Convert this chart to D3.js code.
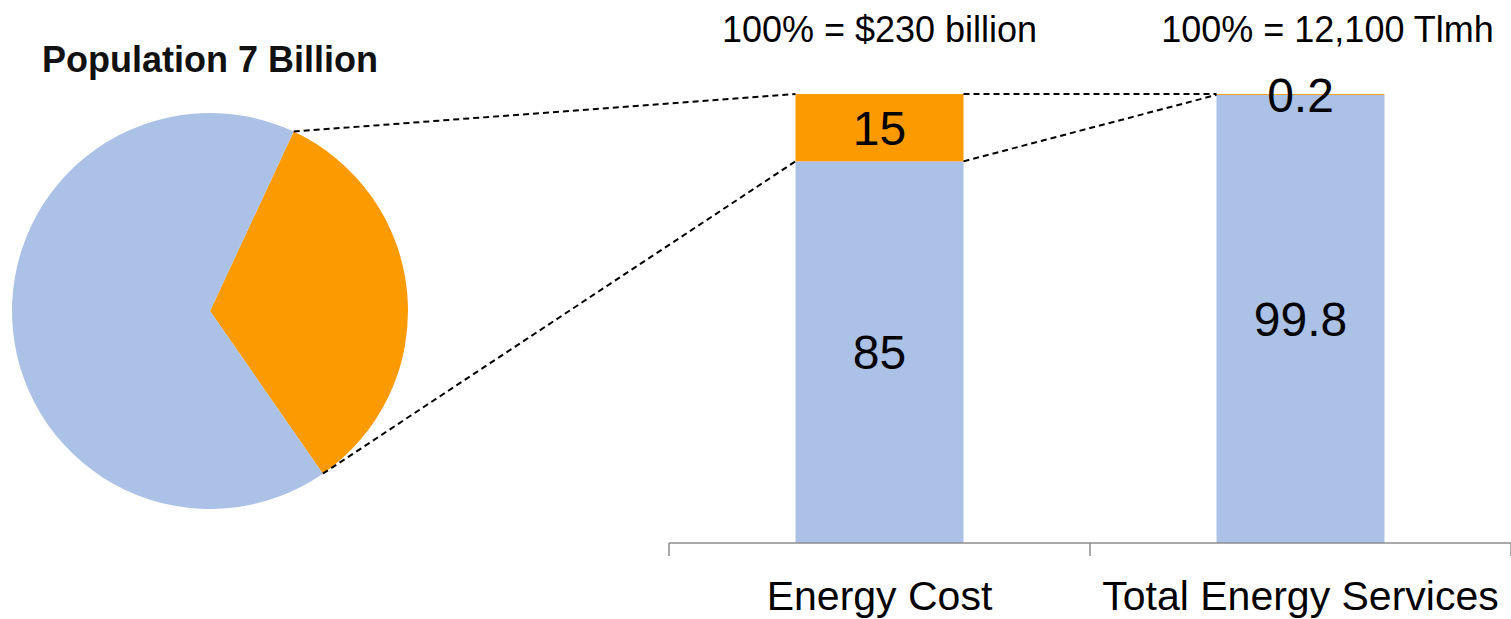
<!DOCTYPE html>
<html><head><meta charset="utf-8">
<script src="https://cdn.jsdelivr.net/npm/d3@7"></script>
<style>body{margin:0;background:#fff}svg{display:block}</style>
</head><body>
<svg id="c" width="1511" height="619"></svg>
<script>
// Data
const pieTitle = "Population 7 Billion";
const pieLabels = ["Orange share", "Rest"];
const pieValues = [33.4, 66.6];
const categories = ["Energy Cost", "Total Energy Services"];
const totals = ["100% = $230 billion", "100% = 12,100 Tlmh"];
const orangeValues = [15, 0.2];
const blueValues = [85, 99.8];

const BLUE = "#ABC1E6", ORANGE = "#FC9A02";
const svg = d3.select("#c");

// Pie
const cx = 210, cy = 311, R = 198;
const startA = 25 * Math.PI / 180;
const pie = d3.pie().sort(null).startAngle(startA).endAngle(startA + 2 * Math.PI);
const arcs = pie(pieValues);
const arc = d3.arc().innerRadius(0).outerRadius(R);
const gp = svg.append("g").attr("transform", `translate(${cx},${cy})`);
gp.selectAll("path").data(arcs).join("path")
  .attr("d", arc).attr("fill", (d, i) => i === 0 ? ORANGE : BLUE);
svg.append("text").attr("x", 42).attr("y", 72).text(pieTitle)
  .attr("font-family", "Liberation Sans, Arial, sans-serif").attr("font-weight", "bold")
  .attr("font-size", 36).attr("fill", "#111");

// Bars
const x = d3.scaleBand().domain(categories).range([669, 1511]).paddingInner(0).paddingOuter(0);
const bw = 168;
const y = d3.scaleLinear().domain([0, 100]).range([543, 94]);
const bars = categories.map((c, i) => ({c, o: orangeValues[i], b: blueValues[i], t: totals[i]}));
const cxb = c => x(c) + x.bandwidth() / 2;

const gb = svg.append("g");
const lf = "Liberation Sans, Arial, sans-serif";
bars.forEach((d, i) => {
  const x0 = cxb(d.c) - bw / 2;
  gb.append("rect").attr("x", x0).attr("width", bw).attr("y", y(d.b)).attr("height", y(0) - y(d.b)).attr("fill", BLUE);
  gb.append("rect").attr("x", x0).attr("width", bw).attr("y", y(d.b + d.o)).attr("height", y(d.b) - y(d.b + d.o)).attr("fill", ORANGE);
  gb.append("text").attr("x", cxb(d.c)).attr("y", (y(d.b) + y(0)) / 2).attr("dy", "0.36em")
    .attr("text-anchor", "middle").attr("font-family", lf).attr("font-size", 48).attr("fill", "#000").text(d.b);
  gb.append("text").attr("x", cxb(d.c)).attr("y", (y(d.b) + y(d.b + d.o)) / 2).attr("dy", "0.36em")
    .attr("text-anchor", "middle").attr("font-family", lf).attr("font-size", 48).attr("fill", "#000").text(d.o);
  gb.append("text").attr("x", cxb(d.c) + (i === 1 ? 27 : 0)).attr("y", 42)
    .attr("text-anchor", "middle").attr("font-family", lf).attr("font-size", 36).attr("fill", "#000").text(d.t);
});

// Axis
const ax = svg.append("g").attr("transform", "translate(0,543)")
  .call(d3.axisBottom(x).tickSize(0).tickFormat(""));
ax.select(".domain").attr("stroke", "#8c8c8c").attr("stroke-width", 1.5).attr("d", "M669,0H1511");
ax.selectAll(".tick").remove();
const edges = [669, 1090, 1511];
ax.selectAll("line.t").data(edges).join("line").attr("class", "t")
  .attr("x1", d => d).attr("x2", d => d).attr("y1", 0).attr("y2", 13).attr("stroke", "#8c8c8c").attr("stroke-width", 1.5);
svg.selectAll("text.cat").data(categories).join("text").attr("class", "cat")
  .attr("x", d => cxb(d)).attr("y", 610).attr("text-anchor", "middle")
  .attr("font-family", lf).attr("font-size", 41).attr("fill", "#000").text(d => d);

// Dashed connectors
const o = arcs[0];
const pt = a => [cx + R * Math.sin(a), cy - R * Math.cos(a)];
const p1 = pt(o.startAngle), p2 = pt(o.endAngle);
const b1l = cxb(categories[0]) - bw / 2, b1r = cxb(categories[0]) + bw / 2, b2l = cxb(categories[1]) - bw / 2;
const lines = [
  [p1, [b1l, y(100)]],
  [p2, [b1l, y(blueValues[0])]],
  [[b1r, y(100)], [b2l, y(100)]],
  [[b1r, y(blueValues[0])], [b2l, y(blueValues[1])]]
];
svg.selectAll("line.dash").data(lines).join("line").attr("class", "dash")
  .attr("x1", d => d[0][0]).attr("y1", d => d[0][1]).attr("x2", d => d[1][0]).attr("y2", d => d[1][1])
  .attr("stroke", "#000").attr("stroke-width", 2).attr("stroke-dasharray", "6,4");
</script>
</body></html>
